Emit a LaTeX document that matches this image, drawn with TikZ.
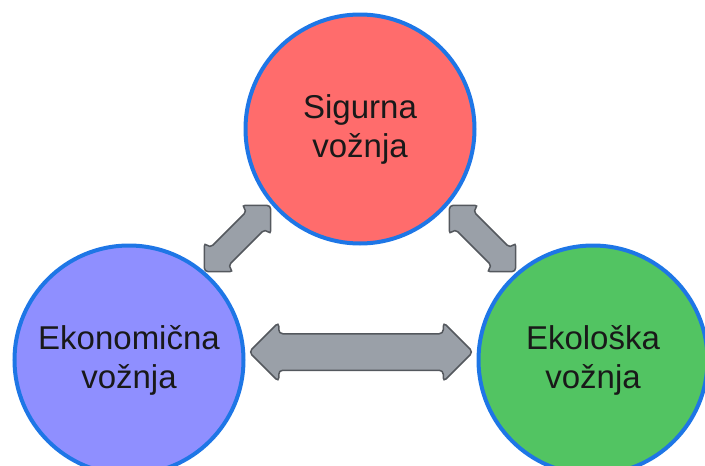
\documentclass[tikz,border=0pt]{standalone}
\usepackage{fontspec}
\setmainfont{Liberation Sans}
\usetikzlibrary{shapes.arrows,calc}
\definecolor{ringblue}{RGB}{30,118,230}
\definecolor{sigred}{RGB}{255,108,108}
\definecolor{ekopurple}{RGB}{143,143,255}
\definecolor{eklgreen}{RGB}{82,196,98}
\definecolor{arrowgray}{RGB}{154,160,168}
\definecolor{arrowline}{RGB}{84,88,94}
\begin{document}
\begin{tikzpicture}[x=1pt,y=-1pt,
  krug/.style={circle,draw=ringblue,line width=4pt,minimum size=229pt,inner sep=0pt,
    align=center,text=black!90,font=\fontsize{33}{39}\selectfont},
  strelica/.style={double arrow,draw=arrowline,fill=arrowgray,line width=1.5pt,
    rounded corners=4pt,double arrow tip angle=90,inner xsep=0pt,minimum width=0pt}]
  \useasboundingbox (0,0) rectangle (705,466);

  \node[krug,fill=sigred] (sig) at (360,129) {Sigurna\\vožnja};
  \node[krug,fill=ekopurple] (eko) at (129,360) {Ekonomična\\vožnja};
  \node[krug,fill=eklgreen] (ekl) at (593,360) {Ekološka\\vožnja};

  \node[strelica,inner ysep=17.5pt,double arrow head extend=11.5pt,minimum height=224pt]
    (eko-ekl) at ($(eko)!0.5!(ekl)+(0,-8)$) {};
  \node[strelica,rotate=45,inner ysep=12pt,double arrow head extend=8pt,minimum height=94pt]
    (eko-sig) at ($(eko)!0.5!(sig)+(-7,-6)$) {};
  \node[strelica,rotate=-45,inner ysep=12pt,double arrow head extend=8pt,minimum height=94pt]
    (ekl-sig) at ($(ekl)!0.5!(sig)+(6,-6)$) {};
\end{tikzpicture}
\end{document}
